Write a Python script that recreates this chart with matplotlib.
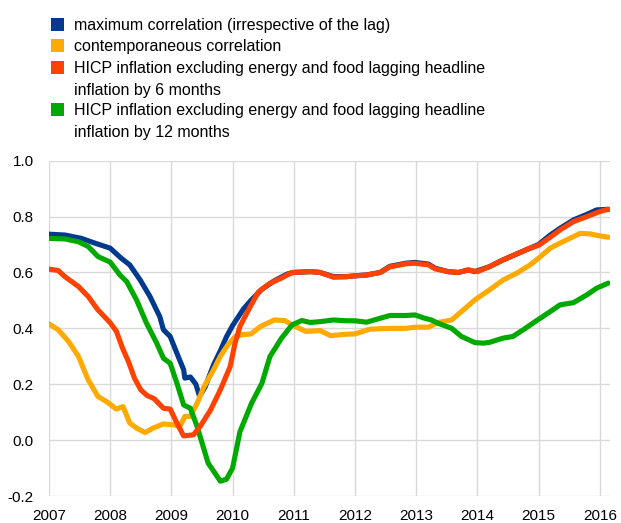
import matplotlib
matplotlib.use("Agg")
import matplotlib.pyplot as plt
from matplotlib.patches import Rectangle

plt.rcParams['font.family'] = ['Liberation Sans', 'DejaVu Sans']

# ---- data (decimal years, correlation values) ----
blue_x = [2007.0, 2007.26, 2007.53, 2007.75, 2008.0, 2008.18, 2008.32, 2008.49, 2008.65,
          2008.81, 2008.87, 2008.98, 2009.09, 2009.2, 2009.22, 2009.31, 2009.40, 2009.46,
          2009.55, 2009.69, 2009.8, 2009.9, 2010.0, 2010.18, 2010.3, 2010.48, 2010.68,
          2010.9, 2011.0, 2011.27, 2011.43, 2011.65, 2011.86, 2012.0, 2012.19, 2012.41,
          2012.57, 2012.83, 2012.98, 2013.2, 2013.31, 2013.52, 2013.69, 2013.85, 2013.96,
          2014.2, 2014.42, 2014.64, 2014.86, 2015.0, 2015.19, 2015.35, 2015.57, 2015.79,
          2015.95, 2016.14]
blue_y = [0.737, 0.734, 0.722, 0.705, 0.687, 0.651, 0.627, 0.573, 0.514,
          0.442, 0.395, 0.371, 0.311, 0.252, 0.222, 0.226, 0.20, 0.157,
          0.19, 0.27, 0.32, 0.37, 0.41, 0.47, 0.50, 0.54, 0.57,
          0.595, 0.60, 0.603, 0.60, 0.585, 0.585, 0.588, 0.591, 0.60,
          0.622, 0.633, 0.636, 0.630, 0.615, 0.603, 0.60, 0.609, 0.603,
          0.621, 0.645, 0.666, 0.687, 0.70, 0.734, 0.758, 0.788, 0.808,
          0.824, 0.826]

orange_x = [2007.0, 2007.15, 2007.32, 2007.48, 2007.64, 2007.8, 2007.94, 2008.1, 2008.21,
            2008.32, 2008.43, 2008.57, 2008.7, 2008.87, 2009.03, 2009.14, 2009.22, 2009.31,
            2009.42, 2009.53, 2009.69, 2009.8, 2009.92, 2010.04, 2010.15, 2010.3, 2010.46,
            2010.68, 2010.85, 2011.02, 2011.2, 2011.43, 2011.6, 2011.86, 2012.0, 2012.24,
            2012.57, 2012.83, 2012.98, 2013.2, 2013.36, 2013.58, 2013.74, 2013.96, 2014.2,
            2014.42, 2014.64, 2014.86, 2015.0, 2015.19, 2015.35, 2015.51, 2015.68, 2015.84,
            2016.0, 2016.14]
orange_y = [0.416, 0.395, 0.353, 0.30, 0.216, 0.156, 0.138, 0.111, 0.12,
            0.061, 0.043, 0.027, 0.043, 0.058, 0.055, 0.049, 0.085, 0.085,
            0.132, 0.19, 0.252, 0.30, 0.34, 0.37, 0.377, 0.38, 0.407,
            0.43, 0.428, 0.407, 0.389, 0.392, 0.374, 0.379, 0.38, 0.397,
            0.40, 0.40, 0.404, 0.404, 0.421, 0.43, 0.46, 0.502, 0.538,
            0.573, 0.597, 0.627, 0.651, 0.687, 0.705, 0.722, 0.74, 0.738,
            0.731, 0.726]

red_x = [2007.0, 2007.15, 2007.26, 2007.48, 2007.64, 2007.8, 2008.0, 2008.1, 2008.2,
         2008.3, 2008.4, 2008.5, 2008.6, 2008.72, 2008.87, 2008.98, 2009.09, 2009.2,
         2009.36, 2009.47, 2009.64, 2009.8, 2009.96, 2010.04, 2010.12, 2010.26, 2010.42,
         2010.6, 2010.8, 2010.97, 2011.27, 2011.43, 2011.65, 2011.86, 2012.0, 2012.19,
         2012.41, 2012.57, 2012.83, 2012.98, 2013.2, 2013.31, 2013.52, 2013.69, 2013.85,
         2014.0, 2014.2, 2014.42, 2014.64, 2014.86, 2015.0, 2015.19, 2015.35, 2015.57,
         2015.79, 2016.0, 2016.14]
red_y = [0.612, 0.607, 0.585, 0.55, 0.514, 0.466, 0.42, 0.39, 0.33,
         0.28, 0.22, 0.18, 0.16, 0.148, 0.114, 0.111, 0.061, 0.015,
         0.019, 0.049, 0.108, 0.18, 0.263, 0.347, 0.407, 0.466, 0.53,
         0.56, 0.58, 0.60, 0.603, 0.60, 0.583, 0.585, 0.588, 0.591,
         0.60, 0.62, 0.631, 0.633, 0.627, 0.613, 0.603, 0.60, 0.609,
         0.603, 0.621, 0.645, 0.666, 0.687, 0.697, 0.726, 0.752, 0.782,
         0.80, 0.818, 0.826]

green_x = [2007.0, 2007.26, 2007.48, 2007.64, 2007.8, 2008.0, 2008.16, 2008.27, 2008.43,
           2008.59, 2008.76, 2008.87, 2008.98, 2009.09, 2009.2, 2009.31, 2009.42, 2009.6,
           2009.8, 2009.9, 2010.0, 2010.12, 2010.31, 2010.48, 2010.61, 2010.8, 2010.97,
           2011.13, 2011.27, 2011.43, 2011.65, 2011.86, 2012.0, 2012.19, 2012.41, 2012.57,
           2012.83, 2012.98, 2013.14, 2013.25, 2013.36, 2013.58, 2013.74, 2013.96, 2014.1,
           2014.2, 2014.42, 2014.58, 2014.75, 2014.97, 2015.19, 2015.35, 2015.57, 2015.79,
           2015.95, 2016.14]
green_y = [0.722, 0.72, 0.71, 0.693, 0.657, 0.637, 0.591, 0.567, 0.502,
           0.42, 0.347, 0.293, 0.275, 0.204, 0.126, 0.114, 0.049, -0.082,
           -0.147, -0.14, -0.10, 0.03, 0.132, 0.204, 0.299, 0.365, 0.412,
           0.428, 0.421, 0.424, 0.43, 0.427, 0.427, 0.422, 0.436, 0.446,
           0.446, 0.448, 0.436, 0.43, 0.418, 0.40, 0.371, 0.349, 0.347,
           0.35, 0.365, 0.371, 0.395, 0.428, 0.46, 0.484, 0.492, 0.52,
           0.544, 0.562]

labels = ["maximum correlation (irrespective of the lag)",
          "contemporaneous correlation",
          "HICP inflation excluding energy and food lagging headline\ninflation by 6 months",
          "HICP inflation excluding energy and food lagging headline\ninflation by 12 months"]
colors = ["#003A8F", "#FFAA00", "#FF4200", "#00A900"]
year_ticks = [2007, 2008, 2009, 2010, 2011, 2012, 2013, 2014, 2015, 2016]
y_ticks = [-0.2, 0.0, 0.2, 0.4, 0.6, 0.8, 1.0]

W, H = 621, 523
fig = plt.figure(figsize=(W / 100, H / 100), dpi=100)
ax = fig.add_axes([49 / W, (H - 496) / H, (610 - 49) / W, (496 - 160.7) / H])

lw = 3.7
ax.plot(blue_x, blue_y, color=colors[0], lw=lw, solid_capstyle='round', zorder=3)
ax.plot(orange_x, orange_y, color=colors[1], lw=lw, solid_capstyle='round', zorder=4)
ax.plot(green_x, green_y, color=colors[3], lw=lw, solid_capstyle='round', zorder=5)
ax.plot(red_x, red_y, color=colors[2], lw=lw, solid_capstyle='round', zorder=6)

ax.set_xlim(2007, 2016.167)
ax.set_ylim(-0.2, 1.0)
ax.set_xticks(year_ticks)
ax.set_xticklabels([str(y) for y in year_ticks])
ax.set_yticks(y_ticks)
ax.set_yticklabels([f"{v:.1f}" for v in y_ticks])
ax.grid(True, color="#d9d9d9", lw=1.0)
ax.set_axisbelow(True)
for s in ax.spines.values():
    s.set_visible(False)
ax.tick_params(length=0, labelsize=11, colors="#000000")
ax.tick_params(axis='y', pad=11)
ax.tick_params(axis='x', pad=9)

# legend drawn manually: square + text lines (first-line centres, pixels from top)
row_first = [24, 45, 67, 109]
line_step = 21.5
for lab, col, ry in zip(labels, colors, row_first):
    fig.patches.append(Rectangle((50.5 / W, 1 - (ry + 6.5) / H), 13 / W, 13 / H,
                                 transform=fig.transFigure, facecolor=col,
                                 edgecolor='none'))
    for i, line in enumerate(lab.split("\n")):
        fig.text(74 / W, 1 - (ry + i * line_step) / H, line, ha='left',
                 va='center_baseline', fontsize=11.5)

fig.savefig("out.png", dpi=100)
